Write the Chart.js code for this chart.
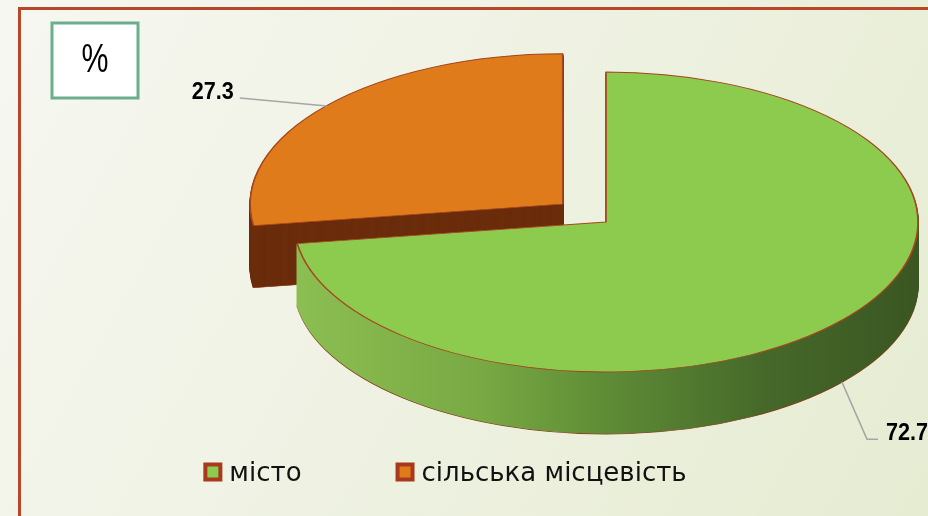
<!DOCTYPE html>
<html>
<head>
<meta charset="utf-8">
<script src="https://cdn.jsdelivr.net/npm/chart.js@4.4.1/dist/chart.umd.min.js"></script>
<style>
  html, body { margin: 0; padding: 0; background: #f3f5ec; }
  #wrap { width: 928px; height: 516px; }
</style>
</head>
<body>
<div id="wrap"><canvas id="pieChart" width="928" height="516"></canvas></div>
<script>
const labels = ["місто", "сільська місцевість"];
const values = [72.7, 27.3];
const topColors = ["#8dcb4f", "#df7b1a"];
const sideColors = [null, "#6b2d0c"]; // green wall gets a gradient below
const unitLabel = "%";

// where the flat pie is projected to on the slide
const tilt = { cx: 606, cy: 222, rx: 312, ry: 150, depth: 62 };

// narrow-looking text: squeeze a normal font horizontally
function narrowText(ctx, text, x, y, squeeze, stretch) {
  ctx.save();
  ctx.translate(x, y);
  ctx.scale(squeeze, stretch || 1);
  ctx.fillText(text, 0, 0);
  ctx.restore();
}

const slideBackground = {
  id: "slideBackground",
  beforeDraw: (chart) => {
    const { ctx, width, height } = chart;
    ctx.save();
    const g = ctx.createLinearGradient(0, 0, width, height);
    g.addColorStop(0, "#f6f7f1");
    g.addColorStop(1, "#e6ecd2");
    ctx.fillStyle = g;
    ctx.fillRect(0, 0, width, height);

    // red frame line
    ctx.strokeStyle = "#b8472a";
    ctx.lineWidth = 3;
    ctx.beginPath();
    ctx.moveTo(19.5, height);
    ctx.lineTo(19.5, 8.5);
    ctx.lineTo(width, 8.5);
    ctx.stroke();

    // "%" box
    ctx.fillStyle = "#ffffff";
    ctx.fillRect(52, 23, 86, 75);
    ctx.strokeStyle = "#6aae8e";
    ctx.lineWidth = 3;
    ctx.strokeRect(52, 23, 86, 75);
    ctx.fillStyle = "#000000";
    ctx.font = "37px 'Liberation Sans', sans-serif";
    ctx.textAlign = "center";
    ctx.textBaseline = "middle";
    narrowText(ctx, unitLabel, 95, 61, 0.82, 1.08);
    ctx.restore();
  },
};

function projector(chart) {
  const ref = chart.getDatasetMeta(0).data[0];
  const sx = tilt.rx / ref.outerRadius;
  const sy = tilt.ry / ref.outerRadius;
  return { ref, sx, sy };
}

const pie3d = {
  id: "pie3d",
  beforeDatasetsDraw: (chart) => {
    const { ctx } = chart;
    const arcs = chart.getDatasetMeta(0).data;
    const { ref, sx, sy } = projector(chart);
    const project = () => {
      ctx.translate(tilt.cx, tilt.cy);
      ctx.scale(sx, sy);
      ctx.translate(-ref.x, -ref.y);
    };

    // exploded slice sits behind, so draw it first
    [1, 0].forEach((i) => {
      const arc = arcs[i];
      let side = sideColors[i];
      if (!side) {
        const r = ref.outerRadius;
        side = ctx.createLinearGradient(ref.x - r, 0, ref.x + r, 0);
        side.addColorStop(0, "#8cbf52");
        side.addColorStop(0.3, "#78a943");
        side.addColorStop(0.5, "#5e8c36");
        side.addColorStop(0.75, "#46692a");
        side.addColorStop(1, "#3a5622");
      }
      const ghost = Object.create(arc);
      for (let d = tilt.depth; d > 0; d--) {
        ghost.options = Object.assign({}, arc.options, {
          backgroundColor: side,
          borderColor: d === tilt.depth ? "#8a3a18" : side,
        });
        ctx.save();
        ctx.translate(0, d);
        project();
        ghost.draw(ctx);
        ctx.restore();
      }
      ctx.save();
      project();
      arc.draw(ctx);
      ctx.restore();
    });
    return false;
  },
};

const valueLabels = {
  id: "valueLabels",
  afterDraw: (chart) => {
    const { ctx } = chart;
    const arcs = chart.getDatasetMeta(0).data;
    const { sx, sy } = projector(chart);
    ctx.save();
    ctx.font = "bold 24px 'Liberation Sans', sans-serif";
    ctx.strokeStyle = "#a6a6a6";
    ctx.lineWidth = 1.5;
    ctx.fillStyle = "#000000";
    ctx.textBaseline = "alphabetic";
    arcs.forEach((arc, i) => {
      const mid = (arc.startAngle + arc.endAngle) / 2;
      const push = (arc.options.offset || 0) / 4 + arc.outerRadius;
      const x = tilt.cx + Math.cos(mid) * push * sx;
      let y = tilt.cy + Math.sin(mid) * push * sy;
      const text = values[i].toFixed(1);
      ctx.beginPath();
      if (Math.sin(mid) > 0) {
        y += tilt.depth;
        ctx.moveTo(x, y);
        ctx.lineTo(x + 25, y + 57);
        ctx.lineTo(x + 36, y + 57);
        ctx.stroke();
        ctx.textAlign = "left";
        narrowText(ctx, text, x + 44, y + 58, 0.9);
      } else {
        ctx.moveTo(x, y);
        ctx.lineTo(x - 87, y - 8);
        ctx.stroke();
        ctx.textAlign = "right";
        narrowText(ctx, text, x - 93, y - 7, 0.9);
      }
    });
    ctx.restore();
  },
};

const bottomLegend = {
  id: "bottomLegend",
  afterDraw: (chart) => {
    const { ctx } = chart;
    ctx.save();
    ctx.font = "26px 'DejaVu Sans', sans-serif";
    ctx.textAlign = "left";
    ctx.textBaseline = "middle";
    const box = 19;
    const gapText = 7;
    const gapItem = 94;
    const widths = labels.map((t) => box + gapText + ctx.measureText(t).width);
    const total = widths.reduce((a, b) => a + b, 0) + gapItem * (labels.length - 1);
    let x = 445 - total / 2;
    const y = 472;
    labels.forEach((t, i) => {
      ctx.fillStyle = "#a8391c";
      ctx.fillRect(x, y - box / 2, box, box);
      ctx.fillStyle = topColors[i];
      ctx.fillRect(x + 4, y - box / 2 + 4, box - 8, box - 8);
      ctx.fillStyle = "#111111";
      ctx.fillText(t, x + box + gapText, y + 2);
      x += widths[i] + gapItem;
    });
    ctx.restore();
  },
};

function createPieChart() {
  const ctx = document.getElementById("pieChart").getContext("2d");
  return new Chart(ctx, {
    type: "pie",
    data: {
      labels: labels,
      datasets: [
        {
          data: values,
          backgroundColor: topColors,
          borderColor: "#a8451f",
          borderWidth: 1,
          offset: [0, 138],
          hoverOffset: 0,
        },
      ],
    },
    options: {
      responsive: false,
      animation: false,
      events: [],
      layout: { padding: 0 },
      plugins: {
        legend: { display: false },
        tooltip: { enabled: false },
      },
    },
    plugins: [slideBackground, pie3d, valueLabels, bottomLegend],
  });
}

document.addEventListener("DOMContentLoaded", () => {
  createPieChart();
});
</script>
</body>
</html>
